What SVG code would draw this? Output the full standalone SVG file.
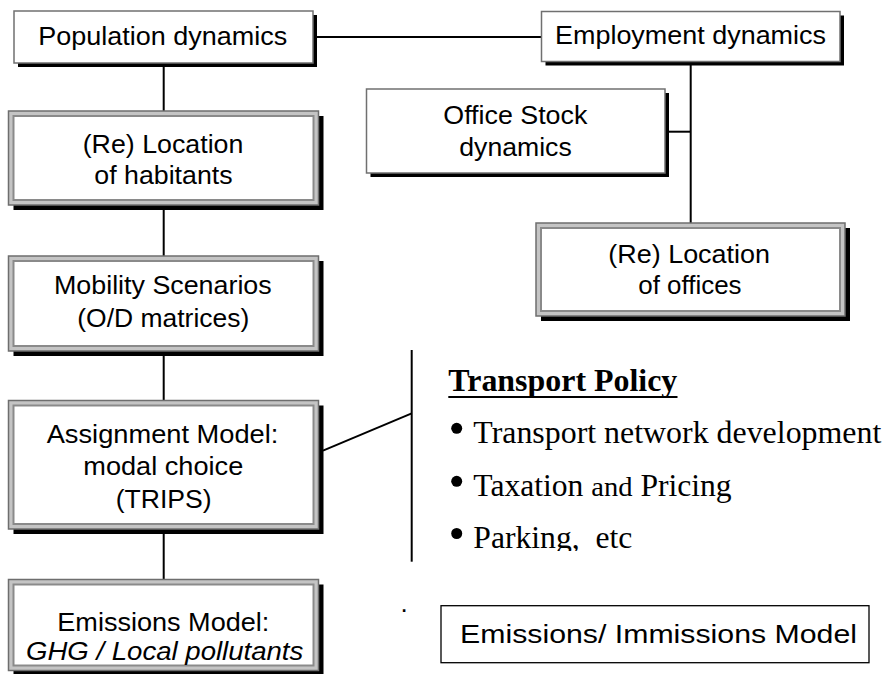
<svg xmlns="http://www.w3.org/2000/svg" width="887" height="674" viewBox="0 0 887 674">
<style>
.sh{fill:#000}
.sb{fill:#fff;stroke:#707070;stroke-width:1.5}
.ob{fill:#c4c4c4;stroke:#6e6e6e;stroke-width:1.5}
.ib{fill:#fff;stroke:#8a8a8a;stroke-width:2}
.t{font-family:"Liberation Sans",Arial,sans-serif;font-size:26px;fill:#000}
.it{font-style:italic}
.tr{font-family:"Liberation Serif","Times New Roman",serif;font-size:31px;fill:#000}
.b{font-weight:bold}
.c{stroke:#000;stroke-width:2;fill:none}
</style>
<defs>
<clipPath id="clipP"><rect x="440" y="500" width="447" height="51"/></clipPath>
</defs>
<rect width="887" height="674" fill="#fff"/>
<g id="connectors">
<line class="c" x1="315" y1="37" x2="541" y2="37" stroke-width="1.6"/>
<line class="c" x1="163.7" y1="63" x2="163.7" y2="111"/>
<line class="c" x1="163.7" y1="205" x2="163.7" y2="256"/>
<line class="c" x1="163.7" y1="351" x2="163.7" y2="401"/>
<line class="c" x1="163.7" y1="529" x2="163.7" y2="579"/>
<line class="c" x1="690.7" y1="62" x2="690.7" y2="223"/>
<line class="c" x1="665" y1="131.7" x2="690.7" y2="131.7" stroke-width="1.6"/>
<line class="c" x1="323" y1="450.7" x2="411.7" y2="413.3" stroke-width="1.6"/>
<line class="c" x1="411.7" y1="350" x2="411.7" y2="561.7" stroke-width="1.6"/>
</g>
<g id="population">
<rect class="sh" x="18" y="15" width="299" height="52"/>
<rect class="sb" x="14" y="11" width="299" height="52"/>
<text class="t" x="38.3" y="45" textLength="249" lengthAdjust="spacingAndGlyphs">Population dynamics</text>
</g>
<g id="employment">
<rect class="sh" x="545.5" y="15.5" width="298.5" height="50"/>
<rect class="sb" x="541.5" y="11.5" width="298.5" height="50"/>
<text class="t" x="555" y="44" textLength="271" lengthAdjust="spacingAndGlyphs">Employment dynamics</text>
</g>
<g id="officestock">
<rect class="sh" x="370.5" y="93" width="298.5" height="84"/>
<rect class="sb" x="366.5" y="89" width="298.5" height="84"/>
<text class="t" x="443.3" y="124.3" textLength="144" lengthAdjust="spacingAndGlyphs">Office Stock</text>
<text class="t" x="459.3" y="156" textLength="112.4" lengthAdjust="spacingAndGlyphs">dynamics</text>
</g>
<g id="habitants">
<rect class="sh" x="13.5" y="116" width="310" height="94"/>
<rect class="ob" x="8.5" y="111" width="310" height="94"/>
<rect class="ib" x="13.5" y="116" width="300" height="84"/>
<text class="t" x="82.7" y="153" textLength="160.7" lengthAdjust="spacingAndGlyphs">(Re) Location</text>
<text class="t" x="94.3" y="184.3" textLength="138.3" lengthAdjust="spacingAndGlyphs">of habitants</text>
</g>
<g id="offices">
<rect class="sh" x="541" y="228" width="309" height="93"/>
<rect class="ob" x="536" y="223" width="309" height="93"/>
<rect class="ib" x="541" y="228" width="299" height="83"/>
<text class="t" x="608.3" y="262.7" textLength="161.7" lengthAdjust="spacingAndGlyphs">(Re) Location</text>
<text class="t" x="638.3" y="294.3" textLength="103.3" lengthAdjust="spacingAndGlyphs">of offices</text>
</g>
<g id="mobility">
<rect class="sh" x="13.5" y="261" width="310" height="95"/>
<rect class="ob" x="8.5" y="256" width="310" height="95"/>
<rect class="ib" x="13.5" y="261" width="300" height="85"/>
<text class="t" x="54" y="294" textLength="217.7" lengthAdjust="spacingAndGlyphs">Mobility Scenarios</text>
<text class="t" x="77.3" y="326.5" textLength="172" lengthAdjust="spacingAndGlyphs">(O/D matrices)</text>
</g>
<g id="assignment">
<rect class="sh" x="13.5" y="405.5" width="310" height="128.5"/>
<rect class="ob" x="8.5" y="400.5" width="310" height="128.5"/>
<rect class="ib" x="13.5" y="405.5" width="300" height="118.5"/>
<text class="t" x="46.7" y="442.7" textLength="231.7" lengthAdjust="spacingAndGlyphs">Assignment Model:</text>
<text class="t" x="83.3" y="475" textLength="160" lengthAdjust="spacingAndGlyphs">modal choice</text>
<text class="t" x="115.7" y="507.7" textLength="96" lengthAdjust="spacingAndGlyphs">(TRIPS)</text>
</g>
<g id="emissions">
<rect class="sh" x="13.5" y="584.5" width="310" height="91"/>
<rect class="ob" x="8.5" y="579.5" width="310" height="91"/>
<rect class="ib" x="13.5" y="584.5" width="300" height="81"/>
<text class="t" x="57.3" y="631" textLength="212" lengthAdjust="spacingAndGlyphs">Emissions Model:</text>
<text class="t it" x="26" y="660" textLength="277.3" lengthAdjust="spacingAndGlyphs">GHG / Local pollutants</text>
</g>
<g id="policy">
<text class="tr b" x="448.3" y="390.7" textLength="229" lengthAdjust="spacingAndGlyphs">Transport Policy</text>
<line x1="448.3" y1="397" x2="677.5" y2="397" stroke="#000" stroke-width="2"/>
<circle cx="456.7" cy="428.3" r="5.5"/>
<text class="tr" x="473.3" y="443.3" textLength="408" lengthAdjust="spacingAndGlyphs">Transport network development</text>
<circle cx="456.7" cy="481.3" r="5.5"/>
<text class="tr" x="473.3" y="496" textLength="258.4" lengthAdjust="spacingAndGlyphs">Taxation <tspan font-size="28">and</tspan> Pricing</text>
<circle cx="456.7" cy="533.5" r="5.5"/>
<text class="tr" x="473.3" y="548.3" textLength="159" lengthAdjust="spacingAndGlyphs" clip-path="url(#clipP)" xml:space="preserve">Parking,  etc</text>
</g>
<g id="immissions">
<rect x="441" y="605.7" width="428" height="57" fill="#fff" stroke="#000" stroke-width="1.3"/>
<text class="t" x="460" y="643.3" textLength="397" lengthAdjust="spacingAndGlyphs">Emissions/ Immissions Model</text>
</g>
<text class="t" x="400.5" y="612" font-size="8">.</text>
</svg>
